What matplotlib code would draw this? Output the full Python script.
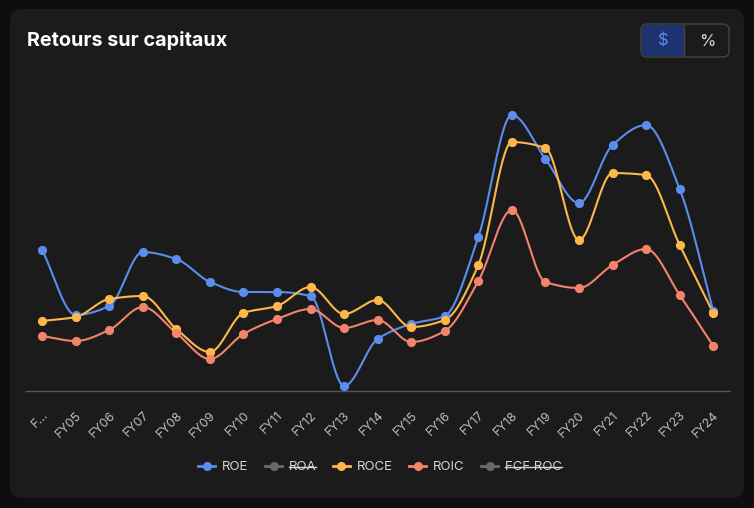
import numpy as np
import matplotlib
matplotlib.use("Agg")
import matplotlib.pyplot as plt
from matplotlib.patches import FancyBboxPatch, Rectangle
from matplotlib.lines import Line2D

plt.rcParams['font.family'] = ['Inter', 'DejaVu Sans']

labels = ['F…', 'FY05', 'FY06', 'FY07', 'FY08', 'FY09', 'FY10', 'FY11', 'FY12', 'FY13', 'FY14',
          'FY15', 'FY16', 'FY17', 'FY18', 'FY19', 'FY20', 'FY21', 'FY22', 'FY23', 'FY24']

roe = [14.1, 7.6, 8.5, 13.9, 13.2, 10.9, 9.9, 9.9, 9.5, 0.5, 5.2,
       6.7, 7.5, 15.4, 27.6, 23.2, 18.8, 24.6, 26.6, 20.2, 8.0]
roce = [7.0, 7.4, 9.2, 9.5, 6.2, 3.9, 7.8, 8.5, 10.4, 7.7, 9.1,
        6.4, 7.1, 12.6, 24.9, 24.3, 15.1, 21.8, 21.6, 14.6, 7.8]
roic = [5.5, 5.0, 6.1, 8.4, 5.8, 3.2, 5.7, 7.2, 8.2, 6.3, 7.1,
        4.9, 6.0, 11.0, 18.1, 10.9, 10.3, 12.6, 14.2, 9.6, 4.5]

BLUE = '#5b8def'
ORANGE = '#fdb84a'
SALMON = '#f4836b'
GRAY = '#6a6a6a'
CARD = '#1b1b1b'


def monotone(y, n=30):
    # monotone cubic (Fritsch-Carlson), like d3 curveMonotoneX
    y = np.asarray(y, float)
    x = np.arange(len(y), dtype=float)
    d = np.diff(y)
    m = np.zeros_like(y)
    m[0], m[-1] = d[0], d[-1]
    for i in range(1, len(y) - 1):
        if d[i - 1] * d[i] <= 0:
            m[i] = 0
        else:
            m[i] = 2 / (1 / d[i - 1] + 1 / d[i])
    xs, ys = [], []
    for i in range(len(y) - 1):
        t = np.linspace(0, 1, n)
        h00 = 2 * t**3 - 3 * t**2 + 1
        h10 = t**3 - 2 * t**2 + t
        h01 = -2 * t**3 + 3 * t**2
        h11 = t**3 - t**2
        xs.append(x[i] + t)
        ys.append(h00 * y[i] + h10 * m[i] + h01 * y[i + 1] + h11 * m[i + 1])
    return np.concatenate(xs), np.concatenate(ys)


fig = plt.figure(figsize=(7.54, 5.08), dpi=100)
fig.patch.set_facecolor('#0e0e0e')

W, H = 754, 508


def px(x, y):
    return x / W, 1 - y / H


card = FancyBboxPatch((10 / 100, (H - 498) / 100), 734 / 100, 489 / 100,
                      boxstyle='round,pad=0,rounding_size=0.12',
                      transform=fig.dpi_scale_trans, facecolor=CARD, edgecolor='none', zorder=-5)
fig.patches.append(card)

fig.text(*px(27, 41), 'Retours sur capitaux', color='white', fontsize=14.3,
         fontweight='bold', va='center', ha='left')

# $ / % toggle
tog = FancyBboxPatch((641 / 100, (H - 57) / 100), 88 / 100, 33 / 100,
                     boxstyle='round,pad=0,rounding_size=0.06',
                     transform=fig.dpi_scale_trans, facecolor=CARD, edgecolor='#444444', lw=1)
fig.patches.append(tog)
sel = FancyBboxPatch((642 / 100, (H - 56) / 100), 42 / 100, 31 / 100,
                     boxstyle='round,pad=0,rounding_size=0.05',
                     transform=fig.dpi_scale_trans, facecolor='#1d3370', edgecolor='none')
fig.patches.append(sel)
fig.patches.append(Rectangle((670 / 100, (H - 56) / 100), 14 / 100, 31 / 100,
                             transform=fig.dpi_scale_trans, facecolor='#1d3370', edgecolor='none'))
fig.lines.append(Line2D([684 / W, 684 / W], [1 - 25 / H, 1 - 56 / H], transform=fig.transFigure,
                        color='#444444', lw=1))
fig.text(*px(663, 41), '$', color=BLUE, fontsize=12, ha='center', va='center')
fig.text(*px(707, 41), '%', color='#d8d8d8', fontsize=12, ha='center', va='center')

ax = fig.add_axes([26 / W, 1 - 391 / H, (730 - 26) / W, (391 - 100) / H])
ax.set_facecolor('none')
x = np.arange(len(labels))

for vals, col, name in [(roe, BLUE, 'ROE'), (roce, ORANGE, 'ROCE'), (roic, SALMON, 'ROIC')]:
    sx, sy = monotone(vals)
    ax.plot(sx, sy, color=col, lw=1.5, zorder=2, clip_on=False)
    ax.plot(x, vals, 'o', color=col, ms=5.6, zorder=3, clip_on=False)

ax.set_xlim(-0.48, 20.5)
ax.set_ylim(0, 29.1)
for s in ['top', 'right', 'left']:
    ax.spines[s].set_visible(False)
ax.spines['bottom'].set_color('#555555')
ax.spines['bottom'].set_linewidth(1)
ax.set_yticks([])
ax.set_xticks(x)
ax.set_xticklabels(labels, rotation=45, ha='right', rotation_mode='anchor',
                   color='#bdbdbd', fontsize=9)
ax.tick_params(axis='x', length=0, pad=13)

handles = [
    Line2D([], [], color=BLUE, marker='o', ms=5.5, lw=2, label='ROE'),
    Line2D([], [], color=GRAY, marker='o', ms=5.5, lw=2, label='ROA'),
    Line2D([], [], color=ORANGE, marker='o', ms=5.5, lw=2, label='ROCE'),
    Line2D([], [], color=SALMON, marker='o', ms=5.5, lw=2, label='ROIC'),
    Line2D([], [], color=GRAY, marker='o', ms=5.5, lw=2, label='FCF ROC'),
]
leg = fig.legend(handles=handles, loc='center', bbox_to_anchor=px(380, 467), ncol=5,
                 frameon=False, fontsize=9.5, handlelength=1.3, handletextpad=0.5,
                 columnspacing=1.25, labelcolor='#d6d6d6')

fig.canvas.draw()
r = fig.canvas.get_renderer()
for i in (1, 4):
    t = leg.get_texts()[i]
    bb = t.get_window_extent(r)
    ym = (bb.y0 + bb.y1) / 2 / (H)
    fig.lines.append(Line2D([bb.x0 / W, bb.x1 / W], [ym, ym], transform=fig.transFigure,
                            color='#d6d6d6', lw=1))

fig.savefig('out.png', dpi=100, facecolor=fig.get_facecolor())
